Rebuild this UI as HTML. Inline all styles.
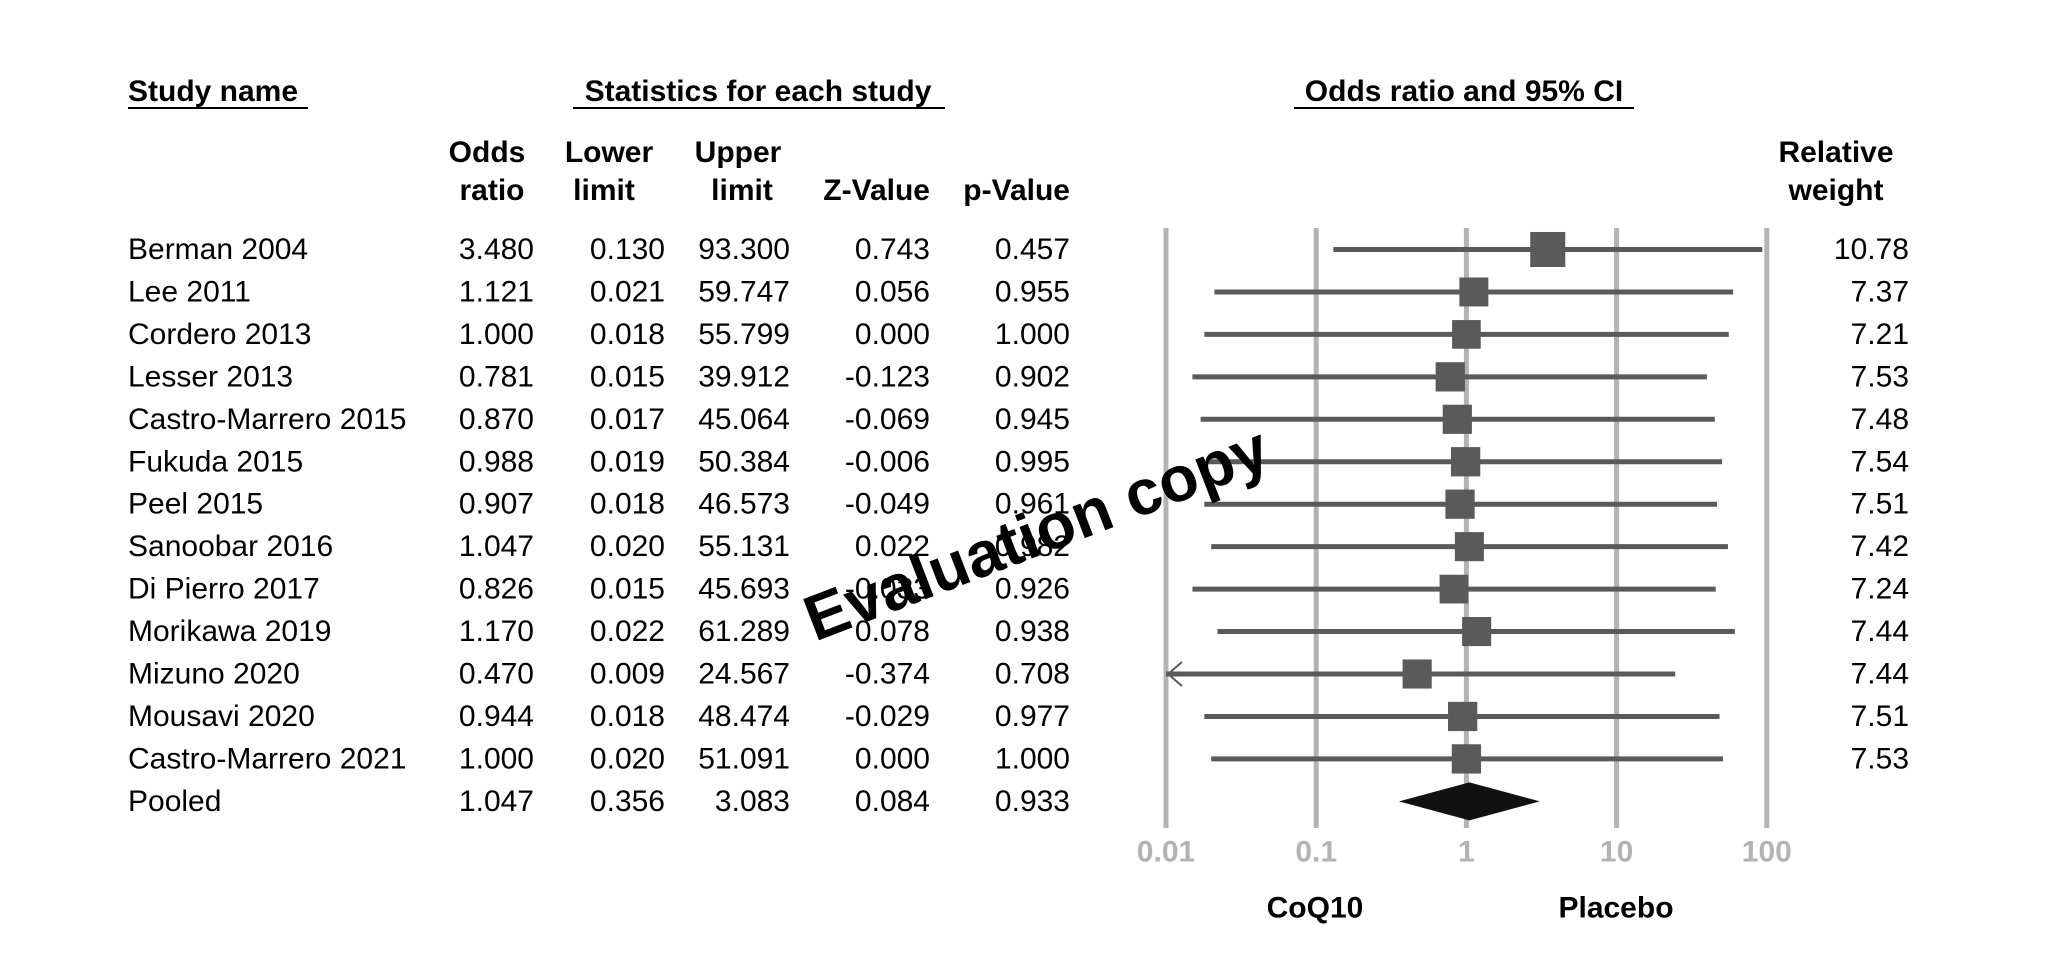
<!DOCTYPE html>
<html><head><meta charset="utf-8"><style>
html,body{margin:0;padding:0;background:#fff;}
svg{display:block;font-family:"Liberation Sans",Arial,sans-serif;}
</style></head><body>
<svg id="chart" width="2048" height="973" viewBox="0 0 2048 973" xmlns="http://www.w3.org/2000/svg">
<rect width="2048" height="973" fill="#fff"/>
<g id="hdr" font-size="30" font-weight="bold" fill="#000">
<text x="128" y="101">Study name</text>
<line x1="128" y1="108" x2="308" y2="108" stroke="#000" stroke-width="2"/>
<text x="758" y="101" text-anchor="middle">Statistics for each study</text>
<line x1="573" y1="108" x2="945" y2="108" stroke="#000" stroke-width="2"/>
<text x="1464" y="101" text-anchor="middle">Odds ratio and 95% CI</text>
<line x1="1294" y1="108" x2="1634" y2="108" stroke="#000" stroke-width="2"/>
<text x="487" y="162" text-anchor="middle"><tspan x="487">Odds</tspan><tspan x="492" dy="38">ratio</tspan></text>
<text x="609" y="162" text-anchor="middle"><tspan x="609">Lower</tspan><tspan x="604" dy="38">limit</tspan></text>
<text x="738" y="162" text-anchor="middle"><tspan x="738">Upper</tspan><tspan x="742" dy="38">limit</tspan></text>
<text x="930" y="200" text-anchor="end">Z-Value</text>
<text x="1070" y="200" text-anchor="end">p-Value</text>
<text x="1836" y="162" text-anchor="middle"><tspan x="1836">Relative</tspan><tspan x="1836" dy="38">weight</tspan></text>
</g>
<g id="rows"></g>
<g id="plot"></g>
<text x="1038" y="538" font-size="64" font-weight="bold" text-anchor="middle" dominant-baseline="middle" transform="rotate(-21 1038 538)" fill="#000">Evaluation copy</text>
</svg>
<script>
const studies=["Berman 2004","Lee 2011","Cordero 2013","Lesser 2013","Castro-Marrero 2015","Fukuda 2015","Peel 2015","Sanoobar 2016","Di Pierro 2017","Morikawa 2019","Mizuno 2020","Mousavi 2020","Castro-Marrero 2021","Pooled"];
const oddsRatio=[3.480,1.121,1.000,0.781,0.870,0.988,0.907,1.047,0.826,1.170,0.470,0.944,1.000,1.047];
const lowerLimit=[0.130,0.021,0.018,0.015,0.017,0.019,0.018,0.020,0.015,0.022,0.009,0.018,0.020,0.356];
const upperLimit=[93.300,59.747,55.799,39.912,45.064,50.384,46.573,55.131,45.693,61.289,24.567,48.474,51.091,3.083];
const zValue=["0.743","0.056","0.000","-0.123","-0.069","-0.006","-0.049","0.022","-0.033","0.078","-0.374","-0.029","0.000","0.084"];
const pValue=["0.457","0.955","1.000","0.902","0.945","0.995","0.961","0.982","0.926","0.938","0.708","0.977","1.000","0.933"];
const weights=[10.78,7.37,7.21,7.53,7.48,7.54,7.51,7.42,7.24,7.44,7.44,7.51,7.53];
const ticks=[0.01,0.1,1,10,100];
const tickLabels=["0.01","0.1","1","10","100"];

const NS="http://www.w3.org/2000/svg";
const xMin=0.01,xMax=100;
function xs(v){return 1166+(Math.log10(Math.max(v,xMin))-Math.log10(xMin))*150.2;}
function ys(i){return 249.5+i*42.45;}
function mk(tag,attrs,parent){const e=document.createElementNS(NS,tag);for(const k in attrs)e.setAttribute(k,attrs[k]);parent.appendChild(e);return e;}
const rows=document.getElementById('rows'),plot=document.getElementById('plot');
function txt(x,y,s,anchor,name){
  const t=mk('text',{x:x,y:y,'font-size':30,'text-anchor':anchor,'dominant-baseline':'central',fill:'#000'},rows);
  t.textContent=s;
  
  
}
studies.forEach((s,i)=>{
  const y=ys(i);
  txt(128,y,s,'start','study-name');
  txt(534,y,oddsRatio[i].toFixed(3),'end','odds-ratio-value');
  txt(665,y,lowerLimit[i].toFixed(3),'end','lower-limit-value');
  txt(790,y,upperLimit[i].toFixed(3),'end','upper-limit-value');
  txt(930,y,zValue[i],'end','z-value');
  txt(1070,y,pValue[i],'end','p-value');
  if(i<weights.length) txt(1909,y,weights[i].toFixed(2),'end','relative-weight-value');
});
ticks.forEach((t,k)=>{
  const g=mk('line',{x1:xs(t),x2:xs(t),y1:228,y2:828,stroke:'#b3b3b3','stroke-width':5},plot);
  
  
  const l=mk('text',{x:xs(t),y:852,'font-size':30,'font-weight':'bold','text-anchor':'middle','dominant-baseline':'central',fill:'#b3b3b3'},plot);
  l.textContent=tickLabels[k];
  
  
});
weights.forEach((w,i)=>{
  const y=ys(i);
  const lo=lowerLimit[i],hi=upperLimit[i];
  const x1=xs(lo),x2=xs(Math.min(hi,xMax));
  const ln=mk('line',{x1:x1,x2:x2,y1:y,y2:y,stroke:'#5a5a5a','stroke-width':5},plot);
  
  
  if(lo<xMin){
    const a=mk('polyline',{points:`${x1+16},${y-12} ${x1+2},${y} ${x1+16},${y+12}`,fill:'none',stroke:'#5a5a5a','stroke-width':2},plot);
    
    
  }
  const sz=10.67*Math.sqrt(w);
  const r=mk('rect',{x:xs(oddsRatio[i])-sz/2,y:y-sz/2,width:sz,height:sz,fill:'#5a5a5a'},plot);
  
  
});
const pi=studies.length-1,py=ys(pi);
const d=mk('polygon',{points:`${xs(lowerLimit[pi])},${py} ${xs(oddsRatio[pi])},${py-19} ${xs(upperLimit[pi])},${py} ${xs(oddsRatio[pi])},${py+19}`,fill:'#111'},plot);


[['CoQ10',1315,'favours-coq10-label'],['Placebo',1616,'favours-placebo-label']].forEach(a=>{
  const t=mk('text',{x:a[1],y:908,'font-size':30,'font-weight':'bold','text-anchor':'middle','dominant-baseline':'central',fill:'#000'},plot);
  t.textContent=a[0];
  
  
});
</script>
</body></html>
